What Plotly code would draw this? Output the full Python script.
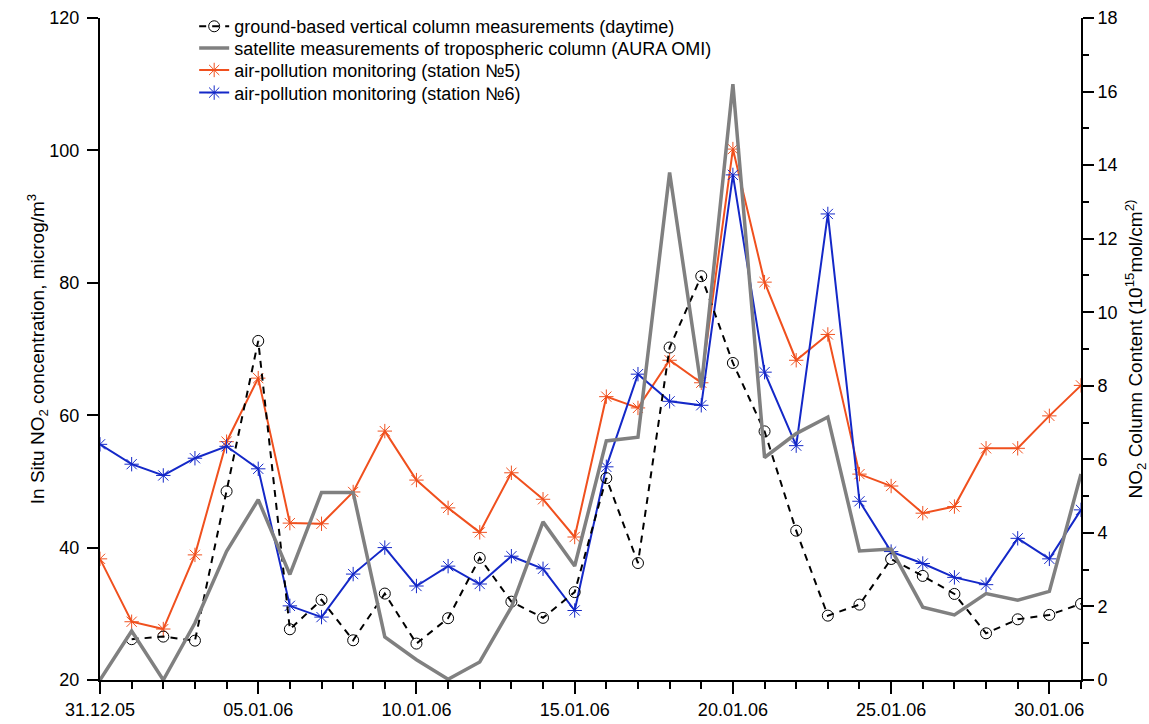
import plotly.graph_objects as go

dates = ["2005-12-31", "2006-01-01", "2006-01-02", "2006-01-03", "2006-01-04", "2006-01-05",
         "2006-01-06", "2006-01-07", "2006-01-08", "2006-01-09", "2006-01-10", "2006-01-11",
         "2006-01-12", "2006-01-13", "2006-01-14", "2006-01-15", "2006-01-16", "2006-01-17",
         "2006-01-18", "2006-01-19", "2006-01-20", "2006-01-21", "2006-01-22", "2006-01-23",
         "2006-01-24", "2006-01-25", "2006-01-26", "2006-01-27", "2006-01-28", "2006-01-29",
         "2006-01-30", "2006-01-31"]

# ground-based vertical column (10^15), right axis
ground = [None, 1.11, 1.18, 1.07, 5.13, 9.22, 1.38, 2.18, 1.08, 2.35, 0.99, 1.68,
          3.32, 2.13, 1.69, 2.39, 5.49, 3.18, 9.04, 10.98, 8.62, 6.76, 4.06, 1.75,
          2.05, 3.29, 2.83, 2.34, 1.27, 1.65, 1.77, 2.07]

# satellite tropospheric column (10^15), right axis
satellite = [0.0, 1.33, 0.0, 1.55, 3.5, 4.9, 2.87, 5.1, 5.1, 1.17, 0.55, 0.02,
             0.49, 1.98, 4.3, 3.1, 6.5, 6.6, 13.8, 7.95, 16.2, 6.05, 6.7, 7.15,
             3.51, 3.56, 1.98, 1.77, 2.35, 2.17, 2.41, 5.6]

# in situ stations (microg/m3), left axis
station5 = [38.3, 28.8, 27.7, 38.9, 56.0, 65.6, 43.7, 43.6, 48.4, 57.6, 50.2, 46.0,
            42.3, 51.3, 47.3, 41.6, 62.8, 61.1, 68.3, 64.9, 100.2, 80.1, 68.3, 72.2,
            51.1, 49.3, 45.2, 46.2, 55.0, 55.0, 59.9, 64.5]
station6 = [55.6, 52.6, 50.9, 53.5, 55.3, 51.9, 31.2, 29.5, 36.0, 40.0, 34.2, 37.2,
            34.5, 38.7, 36.8, 30.5, 52.2, 66.2, 62.1, 61.5, 96.3, 66.5, 55.4, 90.4,
            47.0, 39.4, 37.6, 35.5, 34.4, 41.4, 38.3, 45.7]

names = ["ground-based vertical column measurements (daytime)",
         "satellite measurements of tropospheric column (AURA OMI)",
         "air-pollution monitoring (station №5)",
         "air-pollution monitoring (station №6)"]

FONT = "Liberation Sans, Arial, sans-serif"
ORANGE = "#F0501E"
BLUE = "#1428C8"
FS = 18

fig = go.Figure()
fig.add_trace(go.Scatter(x=dates, y=ground, name=names[0], yaxis="y2", mode="lines+markers",
                         legend="legend",
                         line=dict(color="black", width=2, dash="7px,6px"),
                         marker=dict(symbol="circle-open", size=11, color="black",
                                     line=dict(width=1, color="black"))))
fig.add_trace(go.Scatter(x=dates, y=satellite, name=names[1], yaxis="y2", mode="lines",
                         legend="legend2",
                         line=dict(color="#808080", width=3.5)))
fig.add_trace(go.Scatter(x=dates, y=station5, name=names[2], yaxis="y", mode="lines+markers",
                         legend="legend3",
                         line=dict(color=ORANGE, width=2),
                         marker=dict(symbol="asterisk-open", size=12,
                                     line=dict(width=1, color="#E07860"))))
fig.add_trace(go.Scatter(x=dates, y=station6, name=names[3], yaxis="y", mode="lines+markers",
                         legend="legend4",
                         line=dict(color=BLUE, width=2),
                         marker=dict(symbol="asterisk-open", size=12,
                                     line=dict(width=1, color="#6070D0"))))


def leg(ytop):
    return dict(x=0.096, y=ytop, xanchor="left", yanchor="top",
                bgcolor="rgba(0,0,0,0)", borderwidth=0,
                font=dict(family=FONT, size=FS, color="black"),
                itemwidth=30)


fig.update_layout(
    width=1149, height=724,
    margin=dict(l=100, r=68, t=18, b=44, autoexpand=False),
    paper_bgcolor="white", plot_bgcolor="white",
    font=dict(family=FONT, size=FS, color="black"),
    showlegend=True,
    legend=leg(1.015),
    legend2=leg(0.982),
    legend3=leg(0.949),
    legend4=leg(0.9148),
    xaxis=dict(
        type="date", automargin=False,
        range=["2005-12-31", "2006-01-31"],
        tick0="2005-12-31", dtick=5 * 86400000,
        tickformat="%d.%m.%y",
        ticks="outside", ticklen=12, tickwidth=2, tickcolor="black",
        minor=dict(dtick=86400000, tick0="2005-12-31", ticks="outside", ticklen=7,
                   tickwidth=2, tickcolor="black", showgrid=False),
        showline=True, linecolor="black", linewidth=2,
        showgrid=False, zeroline=False,
        tickfont=dict(family=FONT, size=FS, color="black"),
    ),
    yaxis=dict(
        automargin=False,
        range=[20, 120], dtick=20, tick0=20,
        ticks="outside", ticklen=11, tickwidth=2, tickcolor="black",
        ticklabelstandoff=4,
        showline=True, linecolor="black", linewidth=2,
        showgrid=False, zeroline=False,
        tickfont=dict(family=FONT, size=FS, color="black"),
        title=dict(text="In Situ NO<sub>2</sub> concentration, microg/m<sup>3</sup>",
                   font=dict(family=FONT, size=FS + 1, color="black"), standoff=0),
    ),
    yaxis2=dict(
        automargin=False,
        range=[0, 18], dtick=2, tick0=0,
        overlaying="y", side="right", anchor="x",
        ticks="outside", ticklen=11, tickwidth=2, tickcolor="black",
        minor=dict(dtick=1, ticks="outside", ticklen=6, tickwidth=2, tickcolor="black",
                   showgrid=False),
        showline=True, linecolor="black", linewidth=2,
        showgrid=False, zeroline=False,
        tickfont=dict(family=FONT, size=FS, color="black"),
        title=dict(text="NO<sub>2</sub> Column Content (10<sup>15</sup>mol/cm<sup>2)</sup>",
                   font=dict(family=FONT, size=FS + 1, color="black"), standoff=18),
    ),
)

fig.write_html("out.html")
